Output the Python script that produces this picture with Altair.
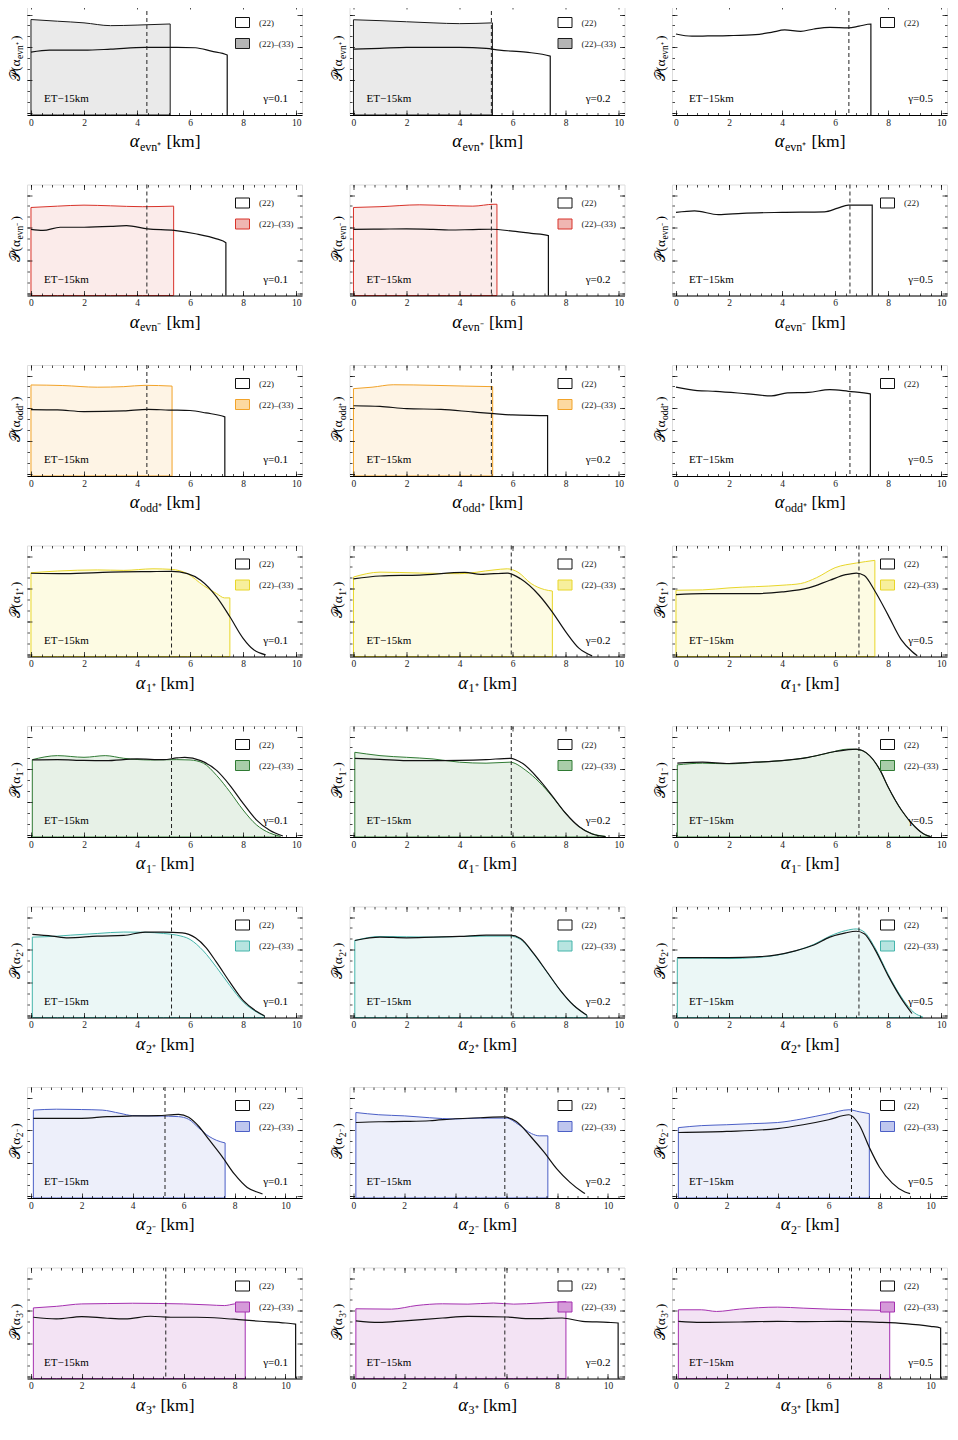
import altair as alt
import pandas as pd

FONT = "Liberation Serif"
S22 = "(22)"
S33 = "(22)–(33)"
GAMMAS = ["0.1", "0.2", "0.5"]
ROW_SUB = ["evn", "evn", "odd", "1", "1", "2", "2", "3"]
ROW_SIGN = ["⁺", "⁻", "⁺", "⁺", "⁻", "⁺", "⁻", "⁺"]
ROW_LINE = ["#1a1a1a", "#d8332a", "#f2a329", "#e8d62a", "#2f7a33", "#45b5ab", "#4b5fc6", "#a530b0"]
ROW_SWATCH = ["#b4b4b4", "#f0b6b2", "#fcd9a0", "#f7ef9c", "#a9cda9", "#b7e4e0", "#bfc6ee", "#d59ad9"]
ROW_XMAX = [10.22, 10.22, 10.22, 10.22, 10.22, 10.22, 10.65, 10.65]

DASH_R1 = [4.37, 5.2, 6.52]
DASH_R2 = [4.37, 5.2, 6.56]
DASH_R3 = [4.37, 5.2, 6.56]
DASH_R4 = [5.3, 5.95, 6.9]
DASH_R5 = [5.3, 5.95, 6.9]
DASH_R6 = [5.3, 5.95, 6.9]
DASH_R7 = [5.27, 5.95, 6.9]
DASH_R8 = [5.3, 5.95, 6.9]

X_MAJOR = [0, 2, 4, 6, 8, 10]
X_MINOR = [0, 0.4, 0.8, 1.2, 1.6, 2, 2.4, 2.8, 3.2, 3.6, 4, 4.4, 4.8, 5.2, 5.6, 6,
           6.4, 6.8, 7.2, 7.6, 8, 8.4, 8.8, 9.2, 9.6, 10, 10.4]
Y_MAJOR = [0.02, 0.315, 0.61, 0.905]
Y_MINOR = [0.02, 0.118, 0.217, 0.315, 0.413, 0.512, 0.61, 0.708, 0.807, 0.905]

# ---- row 1: alpha_evn+ ----
R1C1_X22 = [0, 0.7, 2, 3, 4.3, 5.5, 6.2, 6.8, 7.4, 7.4]
R1C1_Y22 = [0.566, 0.584, 0.584, 0.593, 0.61, 0.61, 0.606, 0.575, 0.54, 0]
R1C1_X33 = [0, 1, 2, 3, 4, 5.25]
R1C1_Y33 = [0.86, 0.845, 0.83, 0.805, 0.81, 0.82]
R1C2_X22 = [0, 1, 2, 3, 4, 5, 5.5, 6.5, 7.42, 7.42]
R1C2_Y22 = [0.593, 0.6, 0.61, 0.61, 0.61, 0.6, 0.584, 0.566, 0.53, 0]
R1C2_X33 = [0, 1, 2, 3, 4, 5.24]
R1C2_Y33 = [0.858, 0.85, 0.84, 0.83, 0.823, 0.83]
R1C3_X22 = [0, 0.6, 1.2, 2, 3, 3.6, 4.1, 4.7, 5.2, 5.8, 6.5, 6.9, 7.35, 7.35]
R1C3_Y22 = [0.73, 0.71, 0.712, 0.715, 0.724, 0.745, 0.766, 0.754, 0.775, 0.79, 0.785, 0.8, 0.82, 0]
R1C3_X33 = []
R1C3_Y33 = []

# ---- row 2: alpha_evn- ----
R2C1_X22 = [0, 0.45, 1.1, 2, 3, 3.6, 4.4, 5.4, 6.2, 7.0, 7.35, 7.35]
R2C1_Y22 = [0.595, 0.586, 0.615, 0.615, 0.622, 0.63, 0.6, 0.586, 0.556, 0.51, 0.476, 0]
R2C1_X33 = [0, 1, 2, 3, 4.2, 5.38]
R2C1_Y33 = [0.793, 0.805, 0.814, 0.808, 0.8, 0.805]
R2C2_X22 = [0, 1, 2, 3, 3.6, 4.5, 5.2, 6, 6.7, 7.35, 7.35]
R2C2_Y22 = [0.595, 0.598, 0.6, 0.595, 0.59, 0.594, 0.597, 0.58, 0.56, 0.54, 0]
R2C2_X33 = [0, 1, 2.5, 3.5, 4.5, 5.3, 5.41]
R2C2_Y33 = [0.793, 0.8, 0.817, 0.81, 0.805, 0.822, 0.822]
R2C3_X22 = [0, 0.7, 1.6, 2.5, 4, 5.6, 6.1, 6.5, 7.4, 7.4]
R2C3_Y22 = [0.749, 0.763, 0.728, 0.74, 0.749, 0.754, 0.787, 0.814, 0.814, 0]
R2C3_X33 = []
R2C3_Y33 = []

# ---- row 3: alpha_odd+ ----
R3C1_X22 = [0, 1, 2, 3.5, 4.4, 5.2, 6, 6.6, 7.31, 7.31]
R3C1_Y22 = [0.598, 0.595, 0.58, 0.586, 0.6, 0.594, 0.59, 0.568, 0.533, 0]
R3C1_X33 = [0, 1.2, 2.5, 3.5, 4.3, 5.32]
R3C1_Y33 = [0.82, 0.815, 0.8, 0.805, 0.817, 0.81]
R3C2_X22 = [0, 1, 2, 3.3, 4.5, 5.3, 6, 7.32, 7.32]
R3C2_Y22 = [0.633, 0.627, 0.607, 0.6, 0.577, 0.562, 0.55, 0.544, 0]
R3C2_X33 = [0, 0.7, 1.5, 3, 4.2, 5.25]
R3C2_Y33 = [0.787, 0.8, 0.822, 0.817, 0.81, 0.805]
R3C3_X22 = [0, 0.8, 1.5, 2.7, 3.6, 4.2, 5, 5.8, 6.5, 7.33, 7.33]
R3C3_Y22 = [0.8, 0.77, 0.763, 0.74, 0.722, 0.749, 0.754, 0.778, 0.763, 0.74, 0]
R3C3_X33 = []
R3C3_Y33 = []

# ---- row 4: alpha_1+ ----
R4C1_X22 = [0, 1.3, 3, 4.5, 5.3, 5.9, 6.4, 7, 7.5, 8, 8.4, 8.85]
R4C1_Y22 = [0.75, 0.746, 0.76, 0.765, 0.767, 0.746, 0.687, 0.537, 0.358, 0.164, 0.06, 0.015]
R4C1_X33 = [0, 1, 2.5, 3.5, 4.6, 5.3, 5.9, 6.5, 7, 7.3, 7.5]
R4C1_Y33 = [0.755, 0.77, 0.78, 0.776, 0.79, 0.785, 0.746, 0.64, 0.567, 0.528, 0.528]
R4C2_X22 = [0, 1, 2.5, 4.2, 4.8, 5.8, 6.3, 7, 7.5, 8, 8.5, 9]
R4C2_Y22 = [0.7, 0.725, 0.734, 0.758, 0.74, 0.752, 0.7, 0.552, 0.4, 0.224, 0.075, 0.006]
R4C2_X33 = [0, 1, 2.5, 4, 5.3, 5.8, 6.2, 6.7, 7.2, 7.5]
R4C2_Y33 = [0.716, 0.76, 0.752, 0.746, 0.78, 0.79, 0.76, 0.657, 0.603, 0.59]
R4C3_X22 = [0, 1, 3, 4, 5, 5.8, 6.4, 6.8, 7.1, 7.5, 8, 8.5, 8.9, 9.1]
R4C3_Y22 = [0.558, 0.567, 0.567, 0.582, 0.618, 0.687, 0.737, 0.752, 0.73, 0.59, 0.373, 0.15, 0.045, 0.006]
R4C3_X33 = [0, 1, 2, 4, 4.7, 5.3, 6, 6.8, 7.5]
R4C3_Y33 = [0.597, 0.6, 0.618, 0.642, 0.657, 0.71, 0.8, 0.842, 0.866]

# ---- row 5: alpha_1- ----
R5C1_X22 = [0.05, 1, 2, 2.8, 4, 5, 5.5, 5.8, 6.4, 7, 7.5, 8, 8.5, 9, 9.5]
R5C1_Y22 = [0.694, 0.697, 0.69, 0.688, 0.703, 0.697, 0.712, 0.718, 0.688, 0.6, 0.466, 0.303, 0.154, 0.06, 0.009]
R5C1_X33 = [0.05, 1, 2, 2.8, 3.5, 4.5, 5.5, 6, 6.5, 7, 7.5, 8, 8.5, 9, 9.4]
R5C1_Y33 = [0.697, 0.733, 0.718, 0.733, 0.709, 0.694, 0.697, 0.694, 0.665, 0.555, 0.407, 0.243, 0.11, 0.036, 0.006]
R5C2_X22 = [0.05, 1, 2, 3, 4, 5, 5.9, 6.4, 7, 7.5, 8, 8.5, 9, 9.5]
R5C2_Y22 = [0.709, 0.7, 0.688, 0.688, 0.69, 0.697, 0.709, 0.659, 0.516, 0.368, 0.214, 0.095, 0.027, 0.004]
R5C2_X33 = [0.05, 0.5, 1, 2, 3, 4, 5, 5.9, 6.5, 7, 7.5, 8, 8.5, 9, 9.5]
R5C2_Y33 = [0.763, 0.748, 0.733, 0.718, 0.703, 0.674, 0.665, 0.674, 0.6, 0.496, 0.362, 0.214, 0.095, 0.03, 0.006]
R5C3_X22 = [0.05, 1, 2, 3, 4, 5, 6, 6.8, 7.3, 7.7, 8, 8.5, 9, 9.4, 9.6]
R5C3_Y22 = [0.665, 0.674, 0.662, 0.674, 0.688, 0.718, 0.77, 0.792, 0.733, 0.6, 0.451, 0.243, 0.095, 0.02, 0.004]
R5C3_X33 = [0.05, 1, 2, 3, 4, 5, 5.7, 6.5, 6.9, 7.3, 7.7, 8, 8.5, 9, 9.4, 9.6]
R5C3_Y33 = [0.65, 0.665, 0.659, 0.674, 0.688, 0.718, 0.754, 0.792, 0.786, 0.733, 0.6, 0.451, 0.243, 0.095, 0.02, 0.004]

# ---- row 6: alpha_2+ ----
R6C1_X22 = [0.05, 0.8, 1.4, 2.5, 3.5, 4.3, 5, 5.7, 6.2, 6.6, 7, 7.5, 8, 8.5, 8.8]
R6C1_Y22 = [0.748, 0.733, 0.718, 0.733, 0.739, 0.77, 0.77, 0.763, 0.718, 0.63, 0.496, 0.318, 0.154, 0.056, 0.015]
R6C1_X33 = [0.05, 1, 1.5, 2.5, 3.5, 4.3, 5, 5.5, 6, 6.5, 7, 7.5, 8, 8.5, 8.8]
R6C1_Y33 = [0.724, 0.733, 0.742, 0.757, 0.77, 0.768, 0.757, 0.742, 0.703, 0.6, 0.451, 0.288, 0.14, 0.05, 0.012]
R6C2_X22 = [0.05, 1, 2, 3, 4, 5, 5.9, 6.3, 6.8, 7.3, 7.8, 8.3, 8.8]
R6C2_Y22 = [0.694, 0.724, 0.718, 0.724, 0.73, 0.742, 0.742, 0.712, 0.575, 0.41, 0.245, 0.11, 0.02]
R6C2_X33 = [0.05, 1, 2, 3, 4, 5, 5.9, 6.3, 6.8, 7.3, 7.8, 8.3, 8.8]
R6C2_Y33 = [0.694, 0.73, 0.727, 0.724, 0.73, 0.733, 0.733, 0.703, 0.57, 0.407, 0.243, 0.11, 0.02]
R6C3_X22 = [0.05, 1, 2, 3, 3.8, 4.5, 5.2, 5.8, 6.4, 6.8, 7.1, 7.5, 8, 8.5, 8.9]
R6C3_Y22 = [0.54, 0.54, 0.54, 0.546, 0.564, 0.6, 0.653, 0.724, 0.763, 0.777, 0.754, 0.614, 0.377, 0.17, 0.036]
R6C3_X33 = [0.05, 1, 2, 3, 3.8, 4.5, 5.2, 5.8, 6.4, 6.8, 7.1, 7.5, 8, 8.5, 9, 9.3]
R6C3_Y33 = [0.534, 0.534, 0.531, 0.54, 0.561, 0.6, 0.659, 0.733, 0.783, 0.798, 0.77, 0.63, 0.39, 0.184, 0.04, 0.006]

# ---- row 7: alpha_2- ----
R7C1_X22 = [0.1, 1, 2, 3, 4, 5, 5.8, 6.2, 6.6, 7, 7.5, 8, 8.5, 9, 9.1]
R7C1_Y22 = [0.718, 0.718, 0.718, 0.733, 0.739, 0.742, 0.754, 0.727, 0.644, 0.525, 0.377, 0.214, 0.095, 0.045, 0.036]
R7C1_X33 = [0.1, 1, 2, 2.8, 3.5, 4, 5, 5.8, 6.2, 6.6, 7, 7.3, 7.63]
R7C1_Y33 = [0.792, 0.8, 0.797, 0.792, 0.763, 0.742, 0.739, 0.733, 0.709, 0.63, 0.555, 0.519, 0.496]
R7C2_X22 = [0.1, 1, 2, 3, 4, 5, 5.9, 6.4, 7, 7.5, 8, 8.5, 9, 9.1]
R7C2_Y22 = [0.68, 0.687, 0.69, 0.696, 0.714, 0.723, 0.73, 0.69, 0.545, 0.41, 0.26, 0.143, 0.054, 0.04]
R7C2_X33 = [0.1, 1, 2, 3, 4, 5, 6, 6.5, 7, 7.3, 7.64]
R7C2_Y33 = [0.77, 0.75, 0.74, 0.723, 0.712, 0.72, 0.72, 0.66, 0.58, 0.56, 0.56]
R7C3_X22 = [0.1, 2, 4, 5, 6, 6.8, 7.2, 7.6, 8, 8.5, 9, 9.2]
R7C3_Y22 = [0.59, 0.6, 0.625, 0.66, 0.705, 0.75, 0.66, 0.455, 0.277, 0.134, 0.054, 0.04]
R7C3_X33 = [0.1, 1, 2, 3, 4, 5, 6, 6.8, 7.2, 7.6]
R7C3_Y33 = [0.634, 0.652, 0.66, 0.67, 0.68, 0.714, 0.76, 0.795, 0.777, 0.76]

# ---- row 8: alpha_3+ ----
R8C1_X22 = [0.1, 1, 2, 3, 3.7, 4.7, 5.5, 6.5, 7.5, 8.3, 9, 10, 10.4, 10.4]
R8C1_Y22 = [0.552, 0.537, 0.558, 0.543, 0.537, 0.561, 0.552, 0.552, 0.543, 0.528, 0.516, 0.5, 0.49, 0]
R8C1_X33 = [0.1, 1, 2, 3, 4, 5, 6, 7, 7.6, 8, 8.42]
R8C1_Y33 = [0.636, 0.65, 0.672, 0.675, 0.678, 0.676, 0.672, 0.663, 0.657, 0.672, 0.678]
R8C2_X22 = [0.1, 1, 2, 3.5, 4.5, 6, 7, 8.2, 9, 10, 10.4, 10.4]
R8C2_Y22 = [0.52, 0.506, 0.52, 0.545, 0.56, 0.554, 0.539, 0.545, 0.515, 0.506, 0.5, 0]
R8C2_X33 = [0.1, 1.5, 2.5, 3.5, 4.5, 5.5, 6.3, 7.3, 8.35]
R8C2_Y33 = [0.628, 0.625, 0.658, 0.673, 0.67, 0.68, 0.67, 0.68, 0.693]
R8C3_X22 = [0.1, 1, 2.5, 4, 5, 6.5, 8, 9, 10, 10.4, 10.4]
R8C3_Y22 = [0.515, 0.506, 0.509, 0.515, 0.512, 0.515, 0.506, 0.494, 0.47, 0.455, 0]
R8C3_X33 = [0.1, 1, 1.6, 2.5, 4, 5, 6, 7, 8.4]
R8C3_Y33 = [0.619, 0.619, 0.604, 0.625, 0.643, 0.634, 0.625, 0.619, 0.613]

PANELS = [
    [(R1C1_X22, R1C1_Y22, R1C1_X33, R1C1_Y33), (R1C2_X22, R1C2_Y22, R1C2_X33, R1C2_Y33), (R1C3_X22, R1C3_Y22, R1C3_X33, R1C3_Y33)],
    [(R2C1_X22, R2C1_Y22, R2C1_X33, R2C1_Y33), (R2C2_X22, R2C2_Y22, R2C2_X33, R2C2_Y33), (R2C3_X22, R2C3_Y22, R2C3_X33, R2C3_Y33)],
    [(R3C1_X22, R3C1_Y22, R3C1_X33, R3C1_Y33), (R3C2_X22, R3C2_Y22, R3C2_X33, R3C2_Y33), (R3C3_X22, R3C3_Y22, R3C3_X33, R3C3_Y33)],
    [(R4C1_X22, R4C1_Y22, R4C1_X33, R4C1_Y33), (R4C2_X22, R4C2_Y22, R4C2_X33, R4C2_Y33), (R4C3_X22, R4C3_Y22, R4C3_X33, R4C3_Y33)],
    [(R5C1_X22, R5C1_Y22, R5C1_X33, R5C1_Y33), (R5C2_X22, R5C2_Y22, R5C2_X33, R5C2_Y33), (R5C3_X22, R5C3_Y22, R5C3_X33, R5C3_Y33)],
    [(R6C1_X22, R6C1_Y22, R6C1_X33, R6C1_Y33), (R6C2_X22, R6C2_Y22, R6C2_X33, R6C2_Y33), (R6C3_X22, R6C3_Y22, R6C3_X33, R6C3_Y33)],
    [(R7C1_X22, R7C1_Y22, R7C1_X33, R7C1_Y33), (R7C2_X22, R7C2_Y22, R7C2_X33, R7C2_Y33), (R7C3_X22, R7C3_Y22, R7C3_X33, R7C3_Y33)],
    [(R8C1_X22, R8C1_Y22, R8C1_X33, R8C1_Y33), (R8C2_X22, R8C2_Y22, R8C2_X33, R8C2_Y33), (R8C3_X22, R8C3_Y22, R8C3_X33, R8C3_Y33)],
]
DASHES = [DASH_R1, DASH_R2, DASH_R3, DASH_R4, DASH_R5, DASH_R6, DASH_R7, DASH_R8]

W, H = 275, 111


def text_layer(text, x, y, size, align="left", angle=0, style="normal"):
    return alt.Chart(pd.DataFrame({"t": [text]})).mark_text(
        align=align, baseline="alphabetic", font=FONT, fontSize=size,
        fontStyle=style, angle=angle, color="black",
    ).encode(x=alt.value(x), y=alt.value(y), text="t:N")


def tick_axis(orient, values, size, labels=False):
    kw = dict(orient=orient, values=values, tickSize=size, offset=-size, domain=False,
              grid=False, labels=labels, title=None, tickColor="black", tickWidth=0.7,
              zindex=2)
    if labels:
        kw.update(labelFont=FONT, labelFontSize=9.5, labelPadding=2, labelFlush=False,
                  labelOverlap=False, labelColor="#222222", format="d", labelBound=False)
    return alt.Axis(**kw)


def make_panel(r, c):
    x22, y22, x33, y33 = PANELS[r][c]
    dash = DASHES[r][c]
    has33 = len(x33) > 0
    dom = [S22, S33] if has33 else [S22]
    xs = alt.Scale(domain=[-0.15, ROW_XMAX[r]], nice=False, zero=False)
    ys = alt.Scale(domain=[0, 1], nice=False, zero=False)
    st_scale = alt.Scale(domain=dom, range=["#111111", ROW_LINE[r]][: len(dom)])
    fi_scale = alt.Scale(domain=dom, range=["#ffffff", ROW_SWATCH[r]][: len(dom)])
    leg = alt.Legend(
        title=None, orient="none", legendX=205, legendY=8, direction="vertical",
        symbolType="M-0.7,-0.5L0.7,-0.5L0.7,0.5L-0.7,0.5Z", symbolSize=400,
        symbolStrokeWidth=1, labelFont=FONT, labelFontSize=9, labelColor="#222222",
        rowPadding=3, labelOffset=6, padding=0, symbolOpacity=1,
    )

    carrier = pd.DataFrame({"x": [0.0], "y": [0.0]})

    def carrier_layer(xa, ya):
        return alt.Chart(carrier).mark_point(opacity=0).encode(
            x=alt.X("x:Q", scale=xs, axis=xa), y=alt.Y("y:Q", scale=ys, axis=ya))

    frame_axis = alt.Axis(orient="bottom", domain=True, domainColor="black", domainWidth=1,
                          ticks=False, labels=False, grid=False, title=None, zindex=3)
    layers = [
        carrier_layer(tick_axis("bottom", X_MAJOR, 5, labels=True), tick_axis("left", Y_MAJOR, 5)),
        carrier_layer(tick_axis("bottom", X_MINOR, 2.5), tick_axis("left", Y_MINOR, 2.5)),
        carrier_layer(tick_axis("top", X_MAJOR, 5), tick_axis("right", Y_MAJOR, 5)),
        carrier_layer(tick_axis("top", X_MINOR, 2.5), tick_axis("right", Y_MINOR, 2.5)),
        carrier_layer(frame_axis, None),
    ]

    if has33:
        d33 = pd.DataFrame({"x": x33, "y": y33, "s": S33})
        layers.append(
            alt.Chart(d33).mark_area(interpolate="monotone", fillOpacity=0.28, strokeWidth=1).encode(
                x=alt.X("x:Q", scale=xs, axis=None),
                y=alt.Y("y:Q", scale=ys, axis=None),
                fill=alt.Fill("s:N", scale=fi_scale, legend=leg),
                stroke=alt.Stroke("s:N", scale=st_scale, legend=leg),
            )
        )
    d22 = pd.DataFrame({"x": x22, "y": y22, "s": S22, "i": list(range(len(x22)))})
    layers.append(
        alt.Chart(d22).mark_line(interpolate="monotone", strokeWidth=1.2).encode(
            x=alt.X("x:Q", scale=xs, axis=None),
            y=alt.Y("y:Q", scale=ys, axis=None),
            stroke=alt.Stroke("s:N", scale=st_scale, legend=leg),
            order=alt.Order("i:Q"),
        )
    )
    layers.append(
        alt.Chart(pd.DataFrame({"x": [dash]})).mark_rule(
            strokeDash=[4, 3], color="#222222", strokeWidth=1
        ).encode(x=alt.X("x:Q", scale=xs, axis=None))
    )
    layers.append(text_layer("ET−15km", 17, H - 13, 11))
    layers.append(text_layer("γ=" + GAMMAS[c], W - 14, H - 13, 11, align="right"))

    # x-axis title: alpha_{sub^sign} [km]
    sub = ROW_SUB[r] + ROW_SIGN[r]
    wsub = len(ROW_SUB[r]) * 6 + 5
    total = 11 + wsub + 4 + 34
    anchor = W / 2 - total / 2 + 11
    layers.append(text_layer("α", anchor, H + 32, 18.5, align="right", style="italic"))
    layers.append(text_layer(sub, anchor + 0.5, H + 35.5, 12))
    layers.append(text_layer("[km]", anchor + wsub + 4, H + 32, 17.5))

    # y-axis title: P(alpha_{sub^sign}) rotated
    wsub_y = len(ROW_SUB[r]) * 4.8 + 4
    w1, w3 = 23, 4.5
    b = H / 2 - (w1 - wsub_y - w3) / 2
    layers.append(text_layer("𝒫(α", -7.5, b, 13.5, align="right", angle=270))
    layers.append(text_layer(sub, -4, b - 0.5, 9.5, align="left", angle=270))
    layers.append(text_layer(")", -7.5, b - wsub_y - 1, 13.5, align="left", angle=270))

    return alt.layer(*layers).resolve_axis(x="independent", y="independent").properties(
        width=W, height=H
    )


rows = []
for r in range(8):
    row = alt.hconcat(*[make_panel(r, c) for c in range(3)], spacing=47.5, bounds="flush")
    row = row.resolve_scale(x="independent", y="independent", fill="independent",
                            stroke="independent").resolve_legend(fill="independent",
                                                                 stroke="independent")
    rows.append(row)

chart = alt.vconcat(*rows, spacing=180.5, bounds="flush").resolve_scale(
    x="independent", y="independent", fill="independent", stroke="independent"
).resolve_legend(fill="independent", stroke="independent").properties(
    padding={"left": 0, "top": -5, "right": 0, "bottom": 0}
).configure_view(stroke="black", strokeWidth=1).configure(background="white")

chart.save("out.html", embed_options={"renderer": "svg", "actions": False})
